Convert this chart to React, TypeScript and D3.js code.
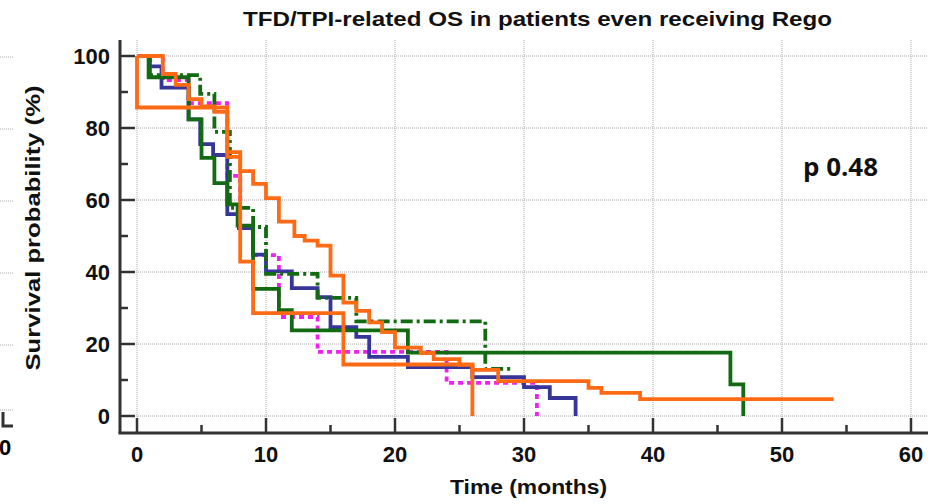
import React from "react";
import * as d3 from "d3";

// Kaplan-Meier steps: [time (months), survival %]
const orangeLong: [number, number][] = [
  [0, 100], [2, 95], [3, 92], [4, 88], [5, 86], [6, 84.5], [7, 72], [8, 68], [9, 64.5],
  [10, 60.5], [11, 54], [12.2, 50], [13, 48.7], [14, 47.3], [15, 39], [16, 31.5],
  [17, 29.2], [18, 26], [19, 23.3], [20, 19], [22, 17.5], [23, 15.8], [25, 14.2],
  [26, 12.8], [28, 9.7], [35, 7.8], [36, 6.4], [39, 4.7], [54, 4.7],
];
const orangeShort: [number, number][] = [
  [0, 100], [0, 85.7], [7, 73.3], [8, 42.9], [9, 28.6], [16, 14.3], [26, 0],
];
const blue: [number, number][] = [
  [0, 100], [1, 97.1], [1.9, 91.2], [4, 82.4], [4.9, 75.5], [5.9, 72.5], [7, 56.1],
  [7.9, 52.2], [9, 44.8], [10, 40.2], [12, 35.5], [14, 33], [15, 24.7], [17, 22],
  [18, 16.4], [21, 13.6], [26, 10.8], [30, 8], [32, 5], [34, 0],
];
const greenSolid: [number, number][] = [
  [0, 100], [0.9, 94.1], [4, 82.4], [5, 71.7], [6, 64.7], [7, 58.8], [7.8, 52.9],
  [9, 35.3], [11, 29.4], [12, 23.8], [21, 17.6], [46, 8.8], [47, 0],
];
const greenDashDot: [number, number][] = [
  [0, 100], [1, 94.7], [4.9, 89.5], [6, 78.9], [7.2, 57.8], [9, 52.5], [10, 39.5],
  [14, 32.8], [17, 26.3], [27, 13.1], [29, 13.1],
];
const magenta: [number, number][] = [
  [0, 100], [2, 93.3], [4, 86.9], [7, 66.7], [8, 52.2], [9, 44.7], [11, 27.5],
  [14, 17.8], [24, 9.2], [31, 0],
];

const xTicks = [0, 10, 20, 30, 40, 50, 60];
const xMinor = [5, 15, 25, 35, 45, 55];
const yTicks = [0, 20, 40, 60, 80, 100];
const yMinor = [10, 30, 50, 70, 90];

const series = [
  { name: "magenta", pts: magenta, color: "#f21ff2", dash: "5,4" },
  { name: "blue", pts: blue, color: "#35359a", dash: "" },
  { name: "greenSolid", pts: greenSolid, color: "#126b12", dash: "" },
  { name: "greenDashDot", pts: greenDashDot, color: "#126b12", dash: "12,4,3,4" },
  { name: "orangeShort", pts: orangeShort, color: "#ff6a14", dash: "" },
  { name: "orangeLong", pts: orangeLong, color: "#ff6a14", dash: "" },
];

export default function App() {
  const width = 933, height = 504;
  const x = d3.scaleLinear().domain([0, 60]).range([137, 911]);
  const y = d3.scaleLinear().domain([0, 100]).range([416, 56]);
  const axisX = 120, axisY = 433, right = 927, top = 40;

  const line = d3.line<[number, number]>()
    .x(d => x(d[0]))
    .y(d => y(d[1]))
    .curve(d3.curveStepAfter);

  const font = "'Liberation Sans', Arial, sans-serif";
  const axisColor = "#333";

  return (
    <svg width={width} height={height} style={{ position: "absolute", left: 0, top: 0, background: "#fff" }}>
      {/* edge of the neighbouring panel */}
      <g>
        {[57, 129, 201, 273, 345, 410].map(v => (
          <line key={v} x1={0} x2={13} y1={v} y2={v} stroke="#aaa" strokeDasharray="1,1" />
        ))}
        <path d="M3,412 V426 H13" fill="none" stroke={axisColor} strokeWidth={3} />
        <text x={5} y={455} fontFamily={font} fontWeight="bold" fontSize={22} textAnchor="middle">0</text>
      </g>

      {/* grid */}
      {xTicks.map(v => (
        <line key={"gx" + v} x1={x(v)} x2={x(v)} y1={top} y2={axisY} stroke="#aaa" strokeDasharray="1,1" />
      ))}
      {yTicks.map(v => (
        <line key={"gy" + v} x1={axisX} x2={right} y1={y(v)} y2={y(v)} stroke="#aaa" strokeDasharray="1,1" />
      ))}

      {/* curves */}
      {series.map(s => (
        <path key={s.name} d={line(s.pts) || ""} fill="none" stroke={s.color}
          strokeWidth={3.8} strokeDasharray={s.dash} />
      ))}

      {/* axes */}
      <line x1={axisX} x2={axisX} y1={top} y2={axisY} stroke={axisColor} strokeWidth={3} />
      <line x1={axisX - 1.5} x2={right + 1} y1={axisY} y2={axisY} stroke={axisColor} strokeWidth={3} />
      {yTicks.map(v => (
        <line key={"ty" + v} x1={axisX} x2={axisX + 15} y1={y(v)} y2={y(v)} stroke={axisColor} strokeWidth={2.5} />
      ))}
      {yMinor.map(v => (
        <line key={"my" + v} x1={axisX} x2={axisX + 8} y1={y(v)} y2={y(v)} stroke={axisColor} strokeWidth={2.5} />
      ))}
      {xTicks.map(v => (
        <line key={"tx" + v} x1={x(v)} x2={x(v)} y1={axisY} y2={axisY - 15} stroke={axisColor} strokeWidth={2.5} />
      ))}
      {xMinor.map(v => (
        <line key={"mx" + v} x1={x(v)} x2={x(v)} y1={axisY} y2={axisY - 8} stroke={axisColor} strokeWidth={2.5} />
      ))}

      {/* tick labels */}
      {xTicks.map(v => (
        <text key={"lx" + v} x={x(v)} y={462} textAnchor="middle" fontFamily={font}
          fontWeight="bold" fontSize={22} fill="#111">{v}</text>
      ))}
      {yTicks.map(v => (
        <text key={"ly" + v} x={110} y={y(v)} dy="0.36em" textAnchor="end" fontFamily={font}
          fontWeight="bold" fontSize={22} fill="#111">{v}</text>
      ))}

      {/* titles */}
      <text x={243} y={26} fontFamily={font} fontWeight="bold" fontSize={21} fill="#111"
        textLength={589} lengthAdjust="spacingAndGlyphs">TFD/TPI-related OS in patients even receiving Rego</text>
      <text x={450} y={494} fontFamily={font} fontWeight="bold" fontSize={21} fill="#111"
        textLength={157} lengthAdjust="spacingAndGlyphs">Time (months)</text>
      <text transform="translate(40,228) rotate(-90)" textAnchor="middle" fontFamily={font}
        fontWeight="bold" fontSize={21} fill="#111" textLength={285}
        lengthAdjust="spacingAndGlyphs">Survival probability (%)</text>
      <text x={803} y={176} fontFamily="'Open Sans', sans-serif" fontWeight="bold" fontSize={25}
        fill="#111" textLength={75} lengthAdjust="spacingAndGlyphs">p 0.48</text>
    </svg>
  );
}
